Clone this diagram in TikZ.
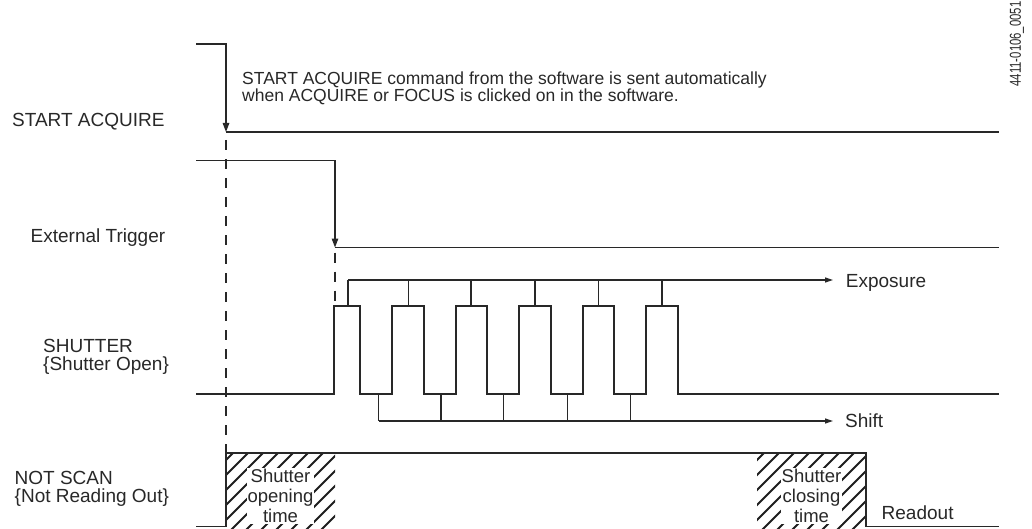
\documentclass[tikz,border=0pt]{standalone}
\usepackage{fontspec}
\setmainfont{Liberation Sans}
\usepackage{xcolor}
\usetikzlibrary{arrows.meta, calc}
\definecolor{ink}{RGB}{40, 40, 40}
\definecolor{hatchgray}{RGB}{30, 30, 30}

\begin{document}
\begin{tikzpicture}[x=1pt, y=-1pt,
  wave/.style={ink, line width=1.3pt},
  bus/.style={ink, line width=1.2pt},
  guide/.style={ink, line width=1.1pt, dash pattern=on 10pt off 9pt},
  trigarrow/.style={wave, -{Triangle[length=9pt, width=6.5pt]}},
  busarrow/.style={bus, -{Triangle[length=8pt, width=5pt]}},
  lbl/.style={ink, inner sep=0pt, anchor=base west, align=left, font=\fontsize{19}{18}\selectfont},
  boxtxt/.style={ink, fill=white, inner sep=0.5pt, align=center, font=\fontsize{18.5}{20.3}\selectfont}]
  \useasboundingbox (0,0) rectangle (1032,529);

  % Signal names on the left
  \node[lbl] (lAcq) at (12,126.5) {START ACQUIRE};
  \node[lbl] (lTrig) at (30.5,242) {External Trigger};
  \node[lbl] (lShut) at (43,370.3) {SHUTTER\\\{Shutter Open\}};
  \node[lbl] (lScan) at (14.5,502) {NOT SCAN\\\{Not Reading Out\}};
  \node[lbl, font=\fontsize{17.5}{16.7}\selectfont] (note) at (242,101.5) {START ACQUIRE command from the software is sent automatically\\when ACQUIRE or FOCUS is clicked on in the software.};
  \node[ink, rotate=90, inner sep=0pt, font=\fontsize{11.3}{12}\selectfont] (figid) at (1017,44) {\scalebox{1}[1.4]{4411-0106\_0051}};

  % Edge points
  \coordinate (acq) at (226,132);
  \coordinate (trig) at (335,247.5);
  \coordinate (scanUp) at (226,453);
  \coordinate (scanDn) at (866,453);

  % START ACQUIRE - the software command
  \draw[trigarrow] (196,44) -- (226,44) -- (acq);
  \draw[wave] (acq) -- (999,132);
  % External Trigger
  \draw[trigarrow] (196,160.5) -- (335,160.5) -- (trig);
  \draw[wave] (trig) -- (999,247.5);

  % SHUTTER - the pulse train
  \draw[wave] (196,394) foreach \a/\b in {334/360, 392/424, 456/487, 519/551, 583/614, 646/678} {
    -- (\a,394) -- (\a,306) -- (\b,306) -- (\b,394) } -- (999,394);

  % Exposure bus
  \draw[busarrow] (348,280) coordinate (expo) -- (833,280);
  \foreach \x in {348, 408.5, 471, 535, 598.5, 662} {
    \draw[bus] (\x,306) -- (\x,280);
  }
  \node[lbl] (lExpo) at (845.7,287) {Exposure};
  % Shift bus
  \draw[busarrow] (378.5,421) coordinate (shift) -- (833,421);
  \foreach \x in {378.5, 441, 503.5, 567.5, 630.5} {
    \draw[bus] (\x,394) -- (\x,421);
  }
  \node[lbl] (lShift) at (845,427) {Shift};

  % Hatched shutter times
  \foreach \l/\r in {226/335, 757/866} {
    \begin{scope}
      \clip (\l,453) rectangle (\r,529);
      \foreach \k in {-6,...,8} {
        \draw[hatchgray, line width=1.8pt] (\l+\k*15,535) -- (\l+\k*15+90,445);
      }
    \end{scope}
  }
  \node[boxtxt] (opening) at (280.5,496) {Shutter\\opening\\time};
  \node[boxtxt] (closing) at (811.5,496) {Shutter\\closing\\time};

  % NOT SCAN
  \draw[wave] (196,526.5) -- (226,526.5) -- (scanUp) -- (scanDn) -- (866,526.5) -- (999,526.5);
  \node[lbl] (lRead) at (881.5,519.3) {Readout};

  % Dashed guides
  \draw[guide] ($(acq)+(0,8)$) -- (scanUp);
  \draw[guide] ($(trig)+(0,5)$) -- (335,306);
\end{tikzpicture}
\end{document}
